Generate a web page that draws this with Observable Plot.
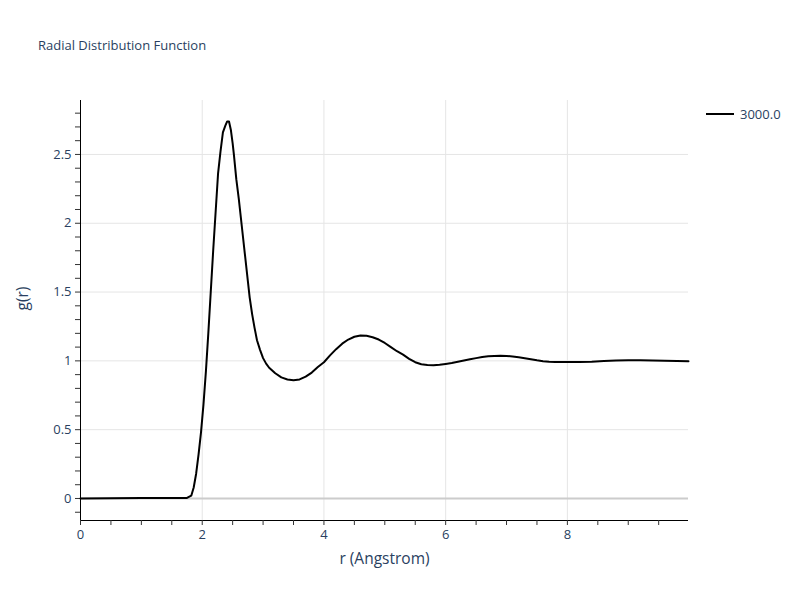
<!DOCTYPE html>
<html>
<head>
<meta charset="utf-8">
<script src="https://cdn.jsdelivr.net/npm/d3@7"></script>
<script src="https://cdn.jsdelivr.net/npm/@observablehq/plot@0.6"></script>
<style>
  html, body { margin: 0; padding: 0; background: #fff; }
  #wrap { position: relative; width: 800px; height: 600px; font-family: "Open Sans", verdana, arial, sans-serif; }
  #title { position: absolute; left: 38px; top: 36px; font-size: 13px; color: #2a3f5f; }
  #legend { position: absolute; left: 705px; top: 105px; font-size: 13px; color: #2a3f5f; display: flex; align-items: center; }
  #legend svg { margin-right: 5px; }
</style>
</head>
<body>
<div id="wrap">
  <div id="chart"></div>
  <div id="title">Radial Distribution Function</div>
  <div id="legend"><svg width="30" height="4"><line x1="1" y1="2" x2="29" y2="2" stroke="#000" stroke-width="2"></line></svg><span>3000.0</span></div>
</div>
<script>
const seriesName = "3000.0";
const r = [0, 0.5, 1.0, 1.5, 1.75, 1.82, 1.86, 1.90, 1.94, 1.98, 2.02, 2.06, 2.10, 2.14, 2.18, 2.22, 2.26, 2.30, 2.34, 2.38, 2.41, 2.44, 2.47, 2.50, 2.52, 2.56, 2.60, 2.65, 2.70, 2.75, 2.78, 2.82, 2.86, 2.90, 2.95, 3.00, 3.05, 3.10, 3.20, 3.30, 3.40, 3.50, 3.60, 3.70, 3.80, 3.90, 4.00, 4.10, 4.20, 4.30, 4.40, 4.50, 4.60, 4.70, 4.80, 4.90, 5.00, 5.10, 5.20, 5.30, 5.40, 5.50, 5.60, 5.70, 5.80, 5.90, 6.00, 6.10, 6.20, 6.30, 6.40, 6.50, 6.60, 6.70, 6.80, 6.90, 7.00, 7.10, 7.20, 7.30, 7.40, 7.50, 7.60, 7.70, 7.80, 7.90, 8.00, 8.20, 8.40, 8.60, 8.80, 9.00, 9.20, 9.40, 9.60, 9.80, 9.99];
const g = [0, 0.001, 0.003, 0.003, 0.004, 0.02, 0.08, 0.18, 0.32, 0.48, 0.68, 0.92, 1.2, 1.5, 1.8, 2.08, 2.36, 2.52, 2.66, 2.71, 2.74, 2.74, 2.68, 2.58, 2.50, 2.32, 2.18, 1.98, 1.78, 1.58, 1.46, 1.34, 1.24, 1.15, 1.08, 1.02, 0.98, 0.95, 0.91, 0.88, 0.865, 0.86, 0.865, 0.885, 0.915, 0.955, 0.99, 1.04, 1.085, 1.125, 1.155, 1.175, 1.185, 1.183, 1.172, 1.155, 1.13, 1.10, 1.07, 1.045, 1.015, 0.99, 0.975, 0.970, 0.968, 0.972, 0.978, 0.984, 0.993, 1.003, 1.012, 1.02, 1.028, 1.033, 1.036, 1.037, 1.036, 1.032, 1.026, 1.019, 1.011, 1.004, 0.998, 0.994, 0.992, 0.991, 0.991, 0.991, 0.994, 0.999, 1.003, 1.005, 1.004, 1.002, 1.000, 0.999, 0.997];
const xTickLabels = [0, 2, 4, 6, 8];
const yTickLabels = [0, 0.5, 1, 1.5, 2, 2.5];
const xDomain = [0, 9.99];
const yDomain = [-0.16, 2.892];

const data = r.map((d, i) => ({r: d, g: g[i]}));
const xMinor = d3.range(0, 10, 0.5);
const yMinor = d3.range(-1, 29).map(i => i / 10);
const tickColor = "#2a3f5f";

const plot = Plot.plot({
  width: 800, height: 600,
  marginLeft: 80, marginRight: 112, marginTop: 100, marginBottom: 80,
  style: {fontFamily: '"Open Sans", verdana, arial, sans-serif', fontSize: "13px", color: tickColor, background: "transparent"},
  x: {domain: xDomain, label: null},
  y: {domain: yDomain, label: null},
  marks: [
    Plot.gridX(xTickLabels.filter(d => d > 0), {stroke: "#e5e5e5", strokeOpacity: 1, strokeWidth: 1}),
    Plot.gridY(yTickLabels.filter(d => d > 0), {stroke: "#e5e5e5", strokeOpacity: 1, strokeWidth: 1}),
    Plot.ruleY([0], {stroke: "#cccccc", strokeWidth: 2}),
    Plot.ruleX([xDomain[0]], {stroke: "#000", strokeWidth: 1}),
    Plot.ruleY([yDomain[0]], {stroke: "#000", strokeWidth: 1}),
    Plot.axisX({ticks: xMinor, tickSize: 5, tickFormat: () => "", stroke: "#333", label: null}),
    Plot.axisX({ticks: xTickLabels, tickSize: 0, tickPadding: 9, tickFormat: d => String(d), fill: tickColor, label: null}),
    Plot.axisY({ticks: yMinor, tickSize: 5, tickFormat: () => "", stroke: "#333", label: null}),
    Plot.axisY({ticks: yTickLabels, tickSize: 0, tickPadding: 9, tickFormat: d => String(d), fill: tickColor, label: null}),
    Plot.line(data, {x: "r", y: "g", stroke: "#000", strokeWidth: 2, curve: "linear"}),
    Plot.text(["r (Angstrom)"], {frameAnchor: "bottom", dy: 43, fill: tickColor, fontSize: 15.5}),
    Plot.text(["g(r)"], {frameAnchor: "left", dx: -57, rotate: -90, fill: tickColor, fontSize: 15.5})
  ]
});
document.getElementById("chart").appendChild(plot);
</script>
</body>
</html>
